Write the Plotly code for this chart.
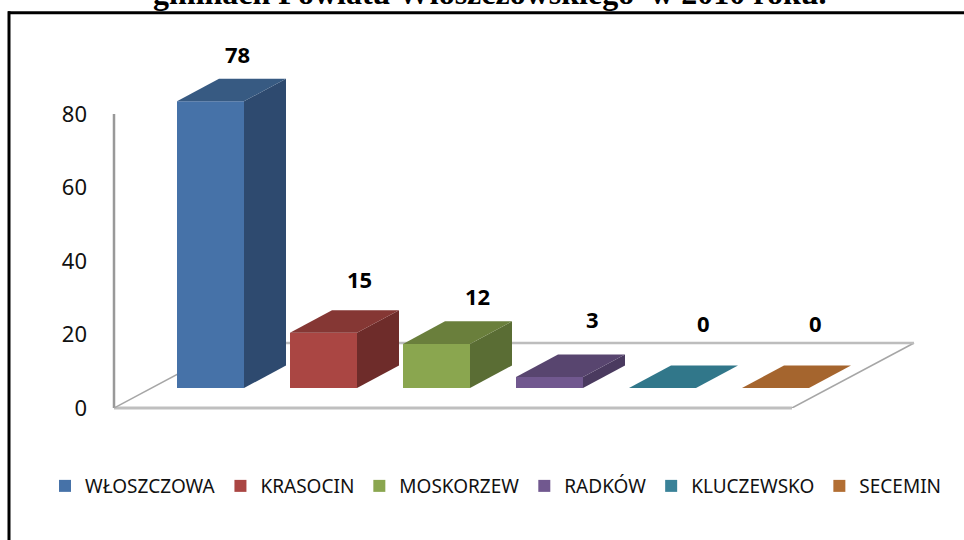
import plotly.graph_objects as go

categories = ["WŁOSZCZOWA", "KRASOCIN", "MOSKORZEW", "RADKÓW", "KLUCZEWSKO", "SECEMIN"]
values = [78, 15, 12, 3, 0, 0]
tick_values = [0, 20, 40, 60, 80]
title_text = "gminach Powiatu Włoszczowskiego  w 2010 roku."

front_colors = ["#4672A8", "#AA4643", "#8AA64F", "#71588F", "#3A8298", "#B26E33"]
side_colors = ["#2E4A6F", "#6E2C2A", "#5A6D34", "#4A3A5F", "#2A5F6F", "#85522A"]
top_colors = ["#375A82", "#853734", "#6A7F3C", "#58456F", "#31778A", "#A5652E"]

# page geometry (pixels)
W, H = 964, 540
L, FLOOR_R, B = 114, 792, 408
px_per_unit = 294 / 80.0
px_per_cat = 113.0
first_center = 210.5
y_top = 105.0
T = B - y_top * px_per_unit
x0 = (L - first_center) / px_per_cat
x1 = (FLOOR_R - first_center) / px_per_cat
x_right = (W - first_center) / px_per_cat

# pseudo-3D projection, in data units
bar_w = 67 / px_per_cat
base = 20 / px_per_unit
dx = 42 / px_per_cat
dy = 22.5 / px_per_unit
floor_dx = 122 / px_per_cat
floor_dy = 65 / px_per_unit

label_shift = [(27, 25), (36, 31), (41, 25), (43, 35), (41, 42), (40, 42)]


def px_x(p):
    return (p - L) / (W - L)


def px_y(p):
    return (B - p) / (B - T)


fig = go.Figure()

for i, (name, v) in enumerate(zip(categories, values)):
    fig.add_trace(go.Bar(
        x=[i], y=[v], base=[base], width=[bar_w], name=name,
        marker=dict(color=front_colors[i], line=dict(width=0)),
        cliponaxis=False, hoverinfo="name+y",
    ))

for i, v in enumerate(values):
    hw = bar_w / 2
    yt = base + v
    fig.add_trace(go.Scatter(
        x=[i + hw, i + hw, i + hw + dx, i + hw + dx, i + hw],
        y=[base, yt, yt + dy, base + dy, base],
        mode="lines", fill="toself", fillcolor=side_colors[i],
        line=dict(width=0), showlegend=False, hoverinfo="skip", cliponaxis=False,
    ))
    fig.add_trace(go.Scatter(
        x=[i - hw, i + hw, i + hw + dx, i - hw + dx, i - hw],
        y=[yt, yt, yt + dy, yt + dy, yt],
        mode="lines", fill="toself", fillcolor=top_colors[i],
        line=dict(width=0), showlegend=False, hoverinfo="skip", cliponaxis=False,
    ))

shapes = [
    dict(type="line", xref="x", yref="y", layer="below",
         x0=x0, x1=x0 + floor_dx, y0=0, y1=floor_dy, line=dict(color="#A6A6A6", width=1.5)),
    dict(type="line", xref="x", yref="y", layer="below",
         x0=x1, x1=x1 + floor_dx, y0=0, y1=floor_dy, line=dict(color="#A6A6A6", width=1.5)),
    dict(type="line", xref="x", yref="y", layer="below",
         x0=x0 + floor_dx, x1=x1 + floor_dx, y0=floor_dy, y1=floor_dy,
         line=dict(color="#BDBDBD", width=2.5)),
    dict(type="line", xref="paper", yref="paper", layer="below",
         x0=px_x(L), x1=px_x(FLOOR_R), y0=px_y(B), y1=px_y(B), line=dict(color="#BFBFBF", width=3)),
    dict(type="line", xref="paper", yref="paper", layer="below",
         x0=px_x(L), x1=px_x(L), y0=px_y(B), y1=px_y(B - 80 * px_per_unit),
         line=dict(color="#999999", width=2.5)),
    dict(type="line", xref="paper", yref="paper",
         x0=px_x(9), x1=px_x(9), y0=px_y(11.5), y1=px_y(545),
         line=dict(color="#000000", width=3)),
    dict(type="line", xref="paper", yref="paper",
         x0=px_x(8), x1=px_x(970), y0=px_y(13), y1=px_y(13),
         line=dict(color="#000000", width=3)),
]

annotations = [
    dict(x=i, y=v + base + dy, xref="x", yref="y", text=str(v), showarrow=False,
         xshift=sx, yshift=sy, font=dict(family="Noto Sans", size=22, color="#000000", weight="bold"))
    for i, (v, (sx, sy)) in enumerate(zip(values, label_shift))
]
annotations.append(dict(
    x=px_x(490), y=px_y(13), xref="paper", yref="paper",
    xanchor="center", yanchor="bottom", text=title_text, showarrow=False,
    font=dict(family="Liberation Serif", size=32, color="#000000", weight="bold"),
))

fig.update_layout(
    width=W, height=H,
    margin=dict(l=L, r=0, t=T, b=H - B, pad=0, autoexpand=False),
    paper_bgcolor="#FFFFFF", plot_bgcolor="rgba(0,0,0,0)",
    showlegend=True, barmode="overlay",
    shapes=shapes, annotations=annotations,
    legend=dict(
        orientation="h", x=px_x(45), xanchor="left",
        y=px_y(486), yanchor="middle",
        font=dict(family="Noto Sans", size=19, color="#111111"),
        itemwidth=30, traceorder="normal", bgcolor="rgba(0,0,0,0)",
    ),
    xaxis=dict(range=[x0, x_right], showgrid=False, zeroline=False, showticklabels=False,
               ticks="", showline=False),
    yaxis=dict(range=[0, y_top], tickvals=tick_values, showgrid=False, zeroline=False,
               ticks="", showline=False, ticklabelstandoff=26,
               tickfont=dict(family="Noto Sans", size=22, color="#111111")),
)

fig.write_html(
    "out.html",
    config={"displayModeBar": False},
    post_script="document.body.style.margin='0';document.body.style.overflow='hidden';",
)
